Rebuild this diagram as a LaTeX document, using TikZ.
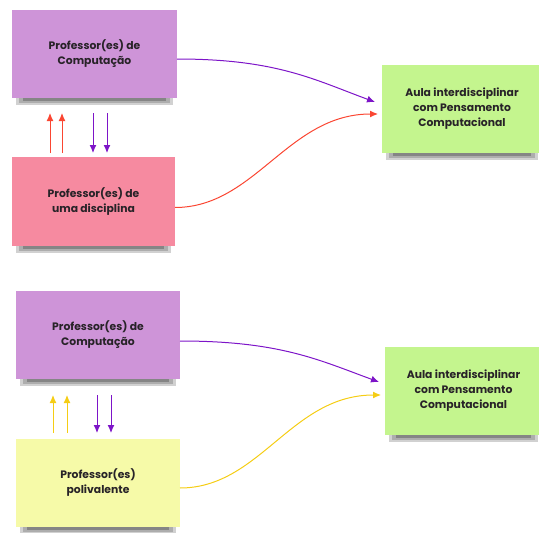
\documentclass[tikz,border=0pt]{standalone}
\usepackage{fontspec}
\setmainfont{Poppins}
\usetikzlibrary{arrows.meta,backgrounds}
\definecolor{boxpurple}{RGB}{206,148,216}
\definecolor{boxpink}{RGB}{246,138,160}
\definecolor{boxgreen}{RGB}{196,245,142}
\definecolor{boxyellow}{RGB}{246,250,168}
\definecolor{arrpurple}{RGB}{125,20,200}
\definecolor{arrred}{RGB}{250,70,50}
\definecolor{arryellow}{RGB}{245,205,20}
\definecolor{txt}{RGB}{40,35,40}
\newcommand\notesh[1]{%
  \fill[black!18] ([xshift=4pt,yshift=1pt]#1.south west) rectangle ([xshift=-4pt,yshift=-7pt]#1.south east);
  \fill[black!32] ([xshift=7pt,yshift=1pt]#1.south west) rectangle ([xshift=-7pt,yshift=-5pt]#1.south east);
  \fill[black!48] ([xshift=11pt,yshift=1pt]#1.south west) rectangle ([xshift=-11pt,yshift=-3pt]#1.south east);
}
\begin{document}
\begin{tikzpicture}[x=1pt,y=-1pt,
  note/.style={inner sep=0pt, outer sep=0pt, align=center, text=txt,
    font=\fontsize{10.8}{15}\selectfont\bfseries},
  link/.style={line width=1pt, -{Latex[length=8pt,width=7pt]}}
]
\useasboundingbox (0,0) rectangle (539,533);
% top group
\node[note, fill=boxpurple, minimum width=165pt, minimum height=88pt] (p1) at (94.5,54) {Professor(es) de\\Computação};
\node[note, fill=boxpink, minimum width=163pt, minimum height=89pt] (d1) at (93.5,201.5) {Professor(es) de\\uma disciplina};
\node[note, fill=boxgreen, minimum width=160pt, minimum height=88pt] (g1) at (462,109) {Aula interdisciplinar\\com Pensamento\\Computacional};
% bottom group
\node[note, fill=boxpurple, minimum width=164pt, minimum height=88pt] (p2) at (98,335) {Professor(es) de\\Computação};
\node[note, fill=boxyellow, minimum width=164pt, minimum height=88pt] (y2) at (98,483) {Professor(es)\\polivalente};
\node[note, fill=boxgreen, minimum width=157pt, minimum height=88pt] (g2) at (463.5,391) {Aula interdisciplinar\\com Pensamento\\Computacional};

\begin{scope}[on background layer]
\notesh{p1}\notesh{d1}\notesh{g1}\notesh{p2}\notesh{y2}\notesh{g2}
\end{scope}

% top connectors
\draw[link, arrpurple] ([yshift=-5pt]p1.east) .. controls +(100,0) and +(-60,-22) .. ([xshift=-7pt,yshift=7pt]g1.west);
\draw[link, arrred] ([yshift=-6pt]d1.east) .. controls +(80,0) and +(-90,0) .. ([xshift=-4pt,yshift=-5pt]g1.west);
\draw[link, arrred] ([xshift=38pt,yshift=4pt]d1.north west) -- ([xshift=38pt,yshift=-15pt]p1.south west);
\draw[link, arrred] ([xshift=50pt,yshift=4pt]d1.north west) -- ([xshift=50pt,yshift=-15pt]p1.south west);
\draw[link, arrpurple] ([xshift=81pt,yshift=-15pt]p1.south west) -- ([xshift=81pt,yshift=4pt]d1.north west);
\draw[link, arrpurple] ([xshift=95pt,yshift=-15pt]p1.south west) -- ([xshift=95pt,yshift=4pt]d1.north west);

% bottom connectors
\draw[link, arrpurple] ([yshift=-6pt]p2.east) .. controls +(100,0) and +(-60,-22) .. ([xshift=-6pt,yshift=9pt]g2.west);
\draw[link, arryellow] ([yshift=-5pt]y2.east) .. controls +(80,0) and +(-90,0) .. ([xshift=-4pt,yshift=-4pt]g2.west);
\draw[link, arryellow] ([xshift=37pt,yshift=6pt]y2.north west) -- ([xshift=37pt,yshift=-16pt]p2.south west);
\draw[link, arryellow] ([xshift=51pt,yshift=6pt]y2.north west) -- ([xshift=51pt,yshift=-16pt]p2.south west);
\draw[link, arrpurple] ([xshift=81pt,yshift=-16pt]p2.south west) -- ([xshift=81pt,yshift=6pt]y2.north west);
\draw[link, arrpurple] ([xshift=95pt,yshift=-16pt]p2.south west) -- ([xshift=95pt,yshift=6pt]y2.north west);
\end{tikzpicture}
\end{document}
